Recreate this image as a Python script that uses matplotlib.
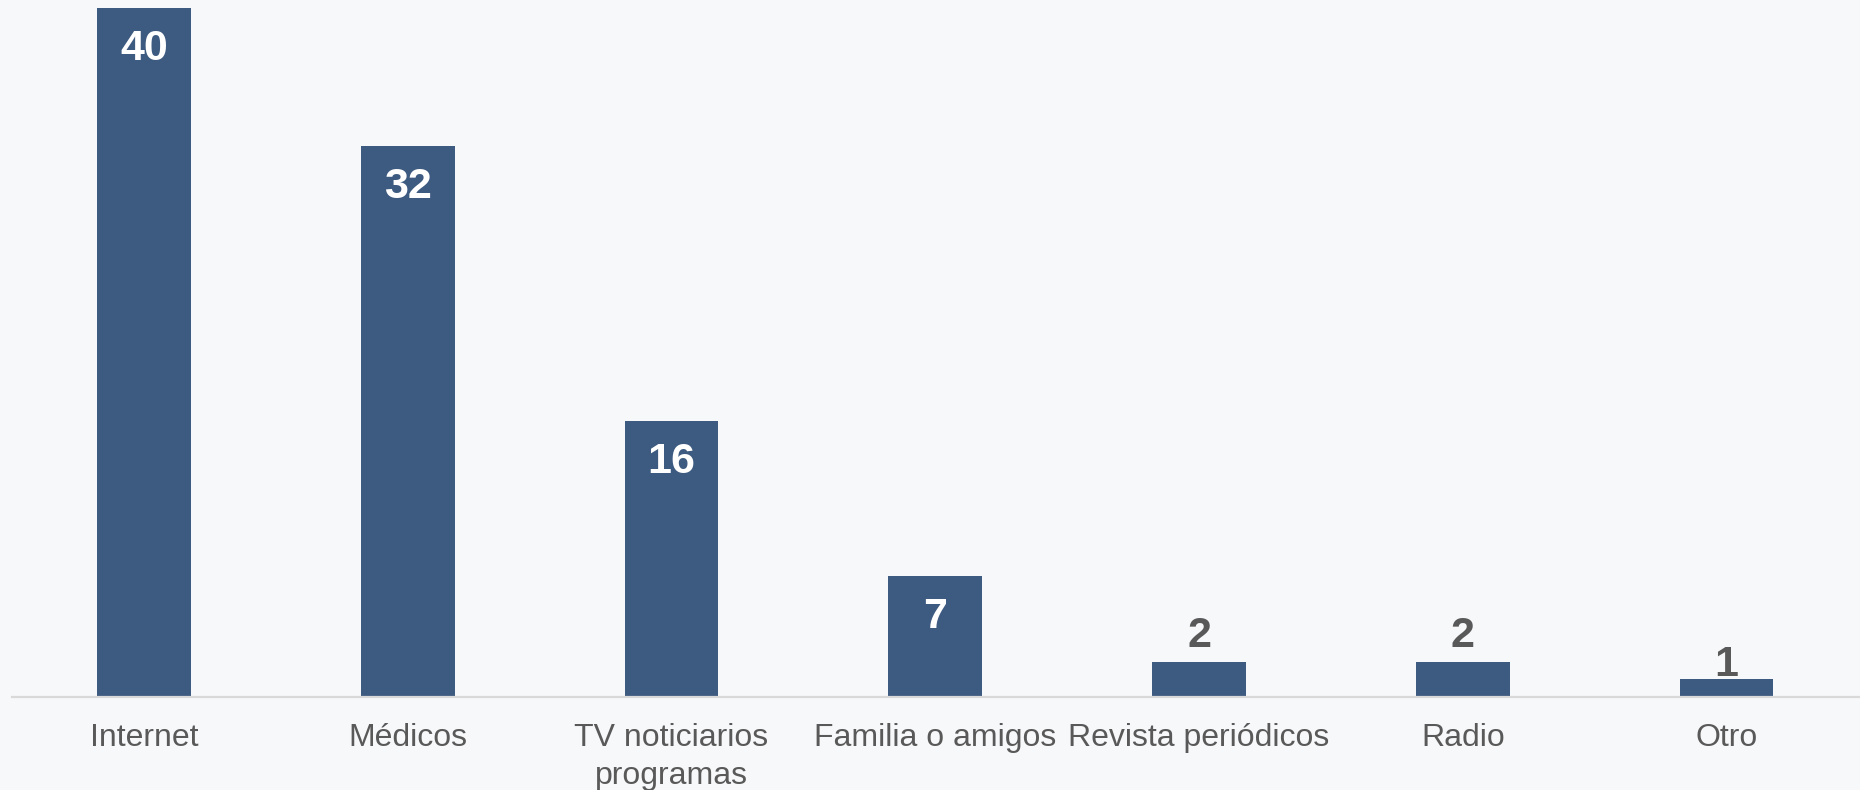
import matplotlib
matplotlib.use('Agg')
import matplotlib.pyplot as plt

categories = ['Internet', 'Médicos', 'TV noticiarios\nprogramas', 'Familia o amigos',
              'Revista periódicos', 'Radio', 'Otro']
values = [40, 32, 16, 7, 2, 2, 1]

BG = '#F7F8FA'
BAR = '#3D5A80'
GREY = '#595959'

plt.rcParams['font.family'] = ['Liberation Sans', 'DejaVu Sans']


def main():
    fig = plt.figure(figsize=(18.6, 7.9), dpi=100, facecolor=BG)
    ax = fig.add_axes([12 / 1860, 0.1181, 1846.5 / 1860, 0.8718])
    ax.set_facecolor(BG)

    x = range(len(categories))
    bars = ax.bar(x, values, width=0.355, color=BAR, zorder=2)

    ax.set_xlim(-0.5, len(categories) - 0.5)
    ax.set_ylim(0, 40)

    # labels inside the tall bars, above the short ones
    outside_pad = {2: 15, 1: 3}
    for b, v in zip(bars, values):
        cx = b.get_x() + b.get_width() / 2
        if v >= 5:
            ax.annotate(str(v), (cx, v), xytext=(0, -21), textcoords='offset pixels',
                        ha='center', va='top', color='white', fontsize=31,
                        fontweight='bold')
        else:
            ax.annotate(str(v), (cx, v), xytext=(0, outside_pad.get(v, 10)),
                        textcoords='offset pixels', ha='center', va='baseline',
                        color=GREY, fontsize=31, fontweight='bold')

    ax.set_xticks(list(x))
    ax.set_xticklabels(categories, fontsize=23, color=GREY, linespacing=1.35)
    ax.tick_params(axis='x', length=0, pad=19)
    ax.set_yticks([])

    for s in ['top', 'right', 'left']:
        ax.spines[s].set_visible(False)
    ax.spines['bottom'].set_color('#D9D9D9')
    ax.spines['bottom'].set_linewidth(1.6)
    ax.spines['bottom'].set_zorder(3)

    fig.savefig('out.png', dpi=100, facecolor=BG)


if __name__ == '__main__':
    main()
